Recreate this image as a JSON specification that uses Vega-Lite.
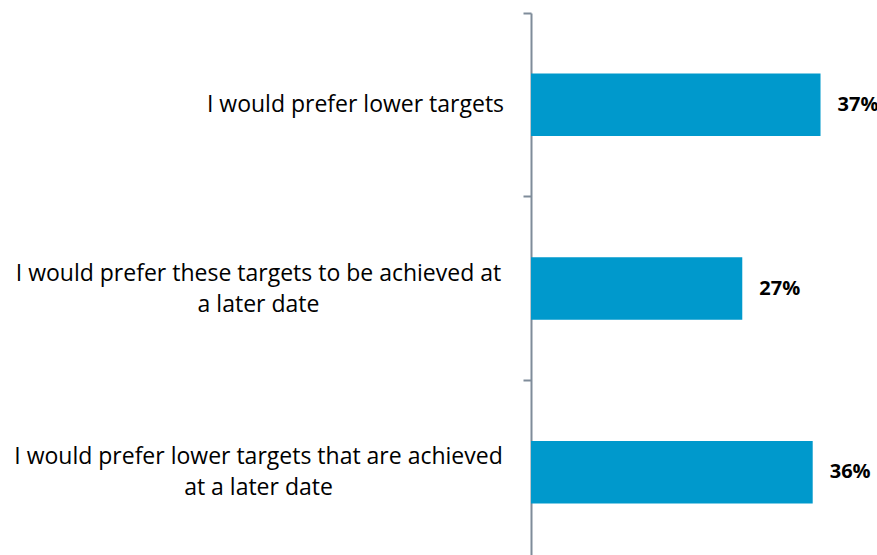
{
  "$schema": "https://vega.github.io/schema/vega-lite/v6.json",
  "autosize": {"type": "none"},
  "padding": {"left": 531, "top": 13, "right": 33, "bottom": 0},
  "width": 313,
  "height": 542,
  "background": "white",
  "config": {"view": {"stroke": null}, "font": "Open Sans"},
  "data": {"values": [
    {"response": "I would prefer lower targets", "share": 0.37},
    {"response": "I would prefer these targets to be achieved at a later date", "share": 0.27},
    {"response": "I would prefer lower targets that are achieved at a later date", "share": 0.36}
  ]},
  "encoding": {
    "y": {
      "field": "response", "type": "nominal", "sort": null,
      "scale": {"range": [0, 551], "paddingInner": 0, "paddingOuter": 0},
      "axis": {
        "title": null,
        "domainColor": "#7F8C9A", "domainWidth": 2,
        "tickColor": "#7F8C9A", "tickWidth": 2, "tickSize": 8,
        "bandPosition": 0,
        "labelAlign": "center", "labelBaseline": "middle",
        "labelFont": "Open Sans", "labelFontSize": 23, "labelColor": "#000000",
        "labelLineHeight": 31, "labelLimit": 0, "labelBound": false, "labelOverlap": false,
        "labelOffset": {"condition": {"test": "datum.value == 'I would prefer lower targets'", "value": 0}, "value": -15},
        "labelPadding": {"condition": {"test": "datum.value == 'I would prefer lower targets'", "value": 168}, "value": 265},
        "labelExpr": "datum.value == 'I would prefer these targets to be achieved at a later date' ? ['I would prefer these targets to be achieved at', 'a later date'] : datum.value == 'I would prefer lower targets that are achieved at a later date' ? ['I would prefer lower targets that are achieved', 'at a later date'] : datum.value"
      }
    },
    "x": {"field": "share", "type": "quantitative", "scale": {"domain": [0, 0.4]}, "axis": null}
  },
  "layer": [
    {"mark": {"type": "bar", "color": "#0099CC", "height": {"band": 0.34}}},
    {"mark": {"type": "text", "align": "left", "baseline": "middle", "dx": 17, "fontWeight": "bold", "fontSize": 20, "font": "Open Sans", "color": "#000000"},
     "encoding": {"text": {"field": "share", "type": "quantitative", "format": ".0%"}}}
  ]
}
